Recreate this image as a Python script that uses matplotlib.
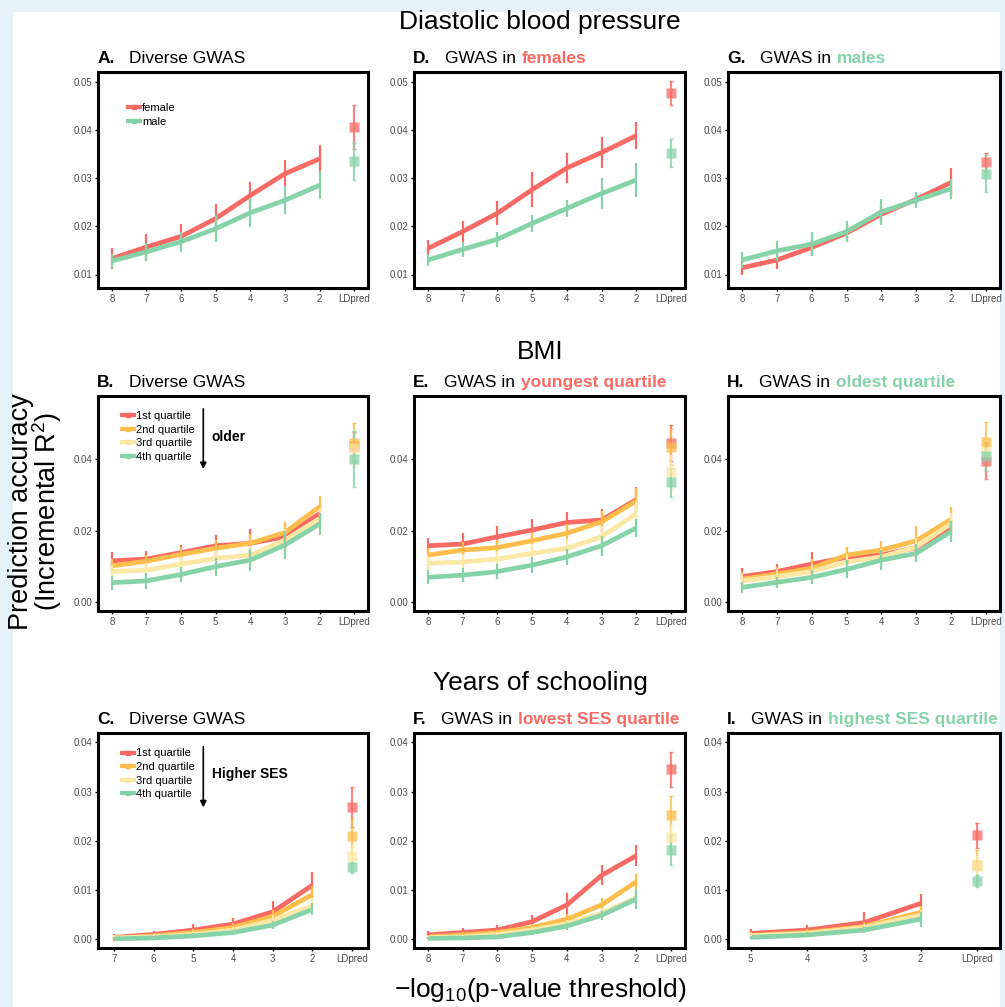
import numpy as np
import matplotlib
matplotlib.use('Agg')
import matplotlib.pyplot as plt
from matplotlib.lines import Line2D
from matplotlib.patches import Rectangle

plt.rcParams['font.family'] = ['Liberation Sans', 'DejaVu Sans']
plt.rcParams['mathtext.fontset'] = 'custom'
plt.rcParams['mathtext.rm'] = 'Liberation Sans'
plt.rcParams['mathtext.it'] = 'Liberation Sans'
plt.rcParams['mathtext.default'] = 'regular'

RED = '#f86a63'
ORANGE = '#fdbe4c'
YELLOW = '#fce8a6'
GREEN = '#86d3a9'

# x tick labels
xl8 = ['8', '7', '6', '5', '4', '3', '2', 'LDpred']
xl7 = ['7', '6', '5', '4', '3', '2', 'LDpred']
xl5 = ['5', '4', '3', '2', 'LDpred']

# Diastolic blood pressure
a_female = [0.0133, 0.0157, 0.0179, 0.0216, 0.0264, 0.0309, 0.0340, 0.0406]
a_female_err = [0.0022, 0.0027, 0.0025, 0.0030, 0.0028, 0.0028, 0.0029, 0.0045]
a_male = [0.0128, 0.0147, 0.0168, 0.0195, 0.0228, 0.0254, 0.0285, 0.0335]
a_male_err = [0.0015, 0.0019, 0.0021, 0.0028, 0.0030, 0.0029, 0.0029, 0.0038]

d_female = [0.0154, 0.0189, 0.0227, 0.0276, 0.0321, 0.0353, 0.0388, 0.0477]
d_female_err = [0.0017, 0.0021, 0.0025, 0.0036, 0.0032, 0.0033, 0.0028, 0.0025]
d_male = [0.0130, 0.0152, 0.0173, 0.0206, 0.0237, 0.0268, 0.0296, 0.0351]
d_male_err = [0.0013, 0.0016, 0.0015, 0.0017, 0.0018, 0.0033, 0.0035, 0.0029]

g_female = [0.0114, 0.0130, 0.0156, 0.0186, 0.0225, 0.0256, 0.0291, 0.0334]
g_female_err = [0.0014, 0.0019, 0.0017, 0.0019, 0.0019, 0.0010, 0.0029, 0.0019]
g_male = [0.0130, 0.0149, 0.0163, 0.0189, 0.0230, 0.0254, 0.0278, 0.0309]
g_male_err = [0.0017, 0.0021, 0.0025, 0.0022, 0.0027, 0.0017, 0.0021, 0.0038]

# BMI
b1 = [0.0116, 0.0121, 0.0139, 0.0158, 0.0165, 0.0183, 0.0248, 0.0436]
b1_err = [0.0025, 0.0022, 0.0022, 0.0030, 0.0040, 0.0040, 0.0030, 0.0040]
b2 = [0.0102, 0.0115, 0.0134, 0.0151, 0.0165, 0.0195, 0.0267, 0.0446]
b2_err = [0.0018, 0.0018, 0.0020, 0.0022, 0.0025, 0.0028, 0.0030, 0.0055]
b3 = [0.0086, 0.0090, 0.0107, 0.0123, 0.0132, 0.0174, 0.0234, 0.0430]
b3_err = [0.0018, 0.0020, 0.0020, 0.0022, 0.0025, 0.0030, 0.0030, 0.0050]
b4 = [0.0055, 0.0060, 0.0078, 0.0100, 0.0118, 0.0160, 0.0219, 0.0399]
b4_err = [0.0020, 0.0022, 0.0022, 0.0025, 0.0030, 0.0040, 0.0030, 0.0078]

e1 = [0.0158, 0.0163, 0.0183, 0.0202, 0.0223, 0.0230, 0.0287, 0.0446]
e1_err = [0.0022, 0.0030, 0.0030, 0.0030, 0.0030, 0.0030, 0.0035, 0.0050]
e2 = [0.0132, 0.0146, 0.0153, 0.0172, 0.0193, 0.0225, 0.0283, 0.0433]
e2_err = [0.0020, 0.0022, 0.0022, 0.0025, 0.0025, 0.0030, 0.0035, 0.0050]
e3 = [0.0109, 0.0113, 0.0121, 0.0137, 0.0151, 0.0183, 0.0248, 0.0365]
e3_err = [0.0020, 0.0022, 0.0022, 0.0025, 0.0025, 0.0030, 0.0035, 0.0045]
e4 = [0.0070, 0.0076, 0.0086, 0.0104, 0.0127, 0.0158, 0.0208, 0.0335]
e4_err = [0.0020, 0.0020, 0.0020, 0.0022, 0.0022, 0.0028, 0.0025, 0.0040]

h1 = [0.0072, 0.0086, 0.0107, 0.0126, 0.0132, 0.0153, 0.0211, 0.0395]
h1_err = [0.0025, 0.0020, 0.0035, 0.0028, 0.0025, 0.0030, 0.0025, 0.0050]
h2 = [0.0065, 0.0079, 0.0095, 0.0132, 0.0146, 0.0172, 0.0232, 0.0448]
h2_err = [0.0020, 0.0020, 0.0025, 0.0022, 0.0025, 0.0040, 0.0035, 0.0055]
h3 = [0.0060, 0.0072, 0.0086, 0.0113, 0.0127, 0.0155, 0.0220, 0.0420]
h3_err = [0.0018, 0.0018, 0.0020, 0.0022, 0.0022, 0.0025, 0.0030, 0.0040]
h4 = [0.0042, 0.0056, 0.0070, 0.0092, 0.0118, 0.0137, 0.0198, 0.0408]
h4_err = [0.0015, 0.0015, 0.0020, 0.0025, 0.0028, 0.0025, 0.0030, 0.0040]

# Years of schooling
c1 = [0.0004, 0.0010, 0.0019, 0.0031, 0.0056, 0.0110, 0.0269]
c1_err = [0.0007, 0.0008, 0.0013, 0.0012, 0.0021, 0.0027, 0.0040]
c2 = [0.0003, 0.0007, 0.0014, 0.0024, 0.0047, 0.0091, 0.0209]
c2_err = [0.0006, 0.0006, 0.0008, 0.0009, 0.0012, 0.0018, 0.0035]
c3 = [0.0003, 0.0005, 0.0010, 0.0019, 0.0039, 0.0068, 0.0170]
c3_err = [0.0005, 0.0005, 0.0006, 0.0007, 0.0010, 0.0015, 0.0020]
c4 = [0.0001, 0.0003, 0.0007, 0.0014, 0.0029, 0.0061, 0.0146]
c4_err = [0.0003, 0.0004, 0.0005, 0.0006, 0.0008, 0.0012, 0.0012]

f1 = [0.0009, 0.0014, 0.0019, 0.0036, 0.0070, 0.0130, 0.0170, 0.0345]
f1_err = [0.0007, 0.0009, 0.0010, 0.0013, 0.0025, 0.0020, 0.0022, 0.0036]
f2 = [0.0005, 0.0009, 0.0014, 0.0024, 0.0041, 0.0070, 0.0117, 0.0252]
f2_err = [0.0004, 0.0005, 0.0006, 0.0008, 0.0010, 0.0014, 0.0016, 0.0040]
f3 = [0.0004, 0.0005, 0.0010, 0.0019, 0.0032, 0.0053, 0.0085, 0.0207]
f3_err = [0.0003, 0.0004, 0.0005, 0.0006, 0.0008, 0.0010, 0.0014, 0.0025]
f4 = [0.0002, 0.0003, 0.0005, 0.0014, 0.0027, 0.0049, 0.0082, 0.0181]
f4_err = [0.0002, 0.0003, 0.0004, 0.0005, 0.0007, 0.0009, 0.0020, 0.0030]

i1 = [0.0012, 0.0019, 0.0034, 0.0073, 0.0211]
i1_err = [0.0009, 0.0010, 0.0021, 0.0019, 0.0025]
i2 = [0.0008, 0.0014, 0.0026, 0.0055, 0.0151]
i2_err = [0.0006, 0.0007, 0.0010, 0.0013, 0.0030]
i3 = [0.0007, 0.0012, 0.0024, 0.0049, 0.0149]
i3_err = [0.0005, 0.0006, 0.0008, 0.0010, 0.0020]
i4 = [0.0004, 0.0009, 0.0019, 0.0041, 0.0118]
i4_err = [0.0003, 0.0005, 0.0006, 0.0015, 0.0012]

sex_labels = ['female', 'male']
quart_labels = ['1st quartile', '2nd quartile', '3rd quartile', '4th quartile']

W, H = 1005, 1007
fig = plt.figure(figsize=(W / 100, H / 100), dpi=100, facecolor='#e6f2fa')
fig.patches.append(Rectangle((13 / W, 0), (1000 - 13) / W, (H - 12) / H,
                             transform=fig.transFigure, facecolor='white',
                             edgecolor='none', zorder=-1))

col_x = [(98, 368), (414, 685), (728, 1000)]
row_y = [(72, 288), (396, 611), (733, 948)]


def make_ax(col, row):
    x0, x1 = col_x[col]
    y0, y1 = row_y[row]
    return fig.add_axes([x0 / W, 1 - y1 / H, (x1 - x0) / W, (y1 - y0) / H])


def draw_panel(ax, xlabels, groups, ylim, yticks):
    x = np.arange(len(xlabels))
    for vals, errs, col in groups:
        ax.plot(x[:-1], vals[:-1], color=col, lw=3.4, zorder=2,
                solid_capstyle='butt')
    for vals, errs, col in groups:
        ax.errorbar(x[:-1], vals[:-1], yerr=errs[:-1], fmt='none', ecolor=col,
                    elinewidth=1.6, zorder=3)
        ax.errorbar(x[-1:], vals[-1:], yerr=errs[-1:], fmt='none', ecolor=col,
                    elinewidth=1.6, capsize=1.5, alpha=0.8, zorder=3)
    for vals, errs, col in groups:
        ax.plot(x[-1:], vals[-1:], 's', color=col, ms=6.8, alpha=0.75,
                mec='none', zorder=4)
    ax.set_xlim(-0.4, len(xlabels) - 0.6)
    ax.set_xticks(x)
    ax.set_xticklabels(xlabels)
    ax.set_ylim(*ylim)
    ax.set_yticks(yticks)
    ax.set_yticklabels(['%.2f' % v for v in yticks])
    ax.tick_params(length=2.5, width=1, color='black', labelsize=7,
                   labelcolor='#4d4d4d', pad=1.5)
    for s in ax.spines.values():
        s.set_linewidth(2.2)
        s.set_color('black')


def panel_title(ax, letter, pre, word=None, wcol=None):
    t = ax.text(-0.003, 1.026, letter, transform=ax.transAxes, fontsize=12.5,
                fontweight='bold', va='bottom', ha='left')
    t2 = ax.annotate(pre, xy=(1, 0), xycoords=t, xytext=(10.5, 0),
                     textcoords='offset points', fontsize=12.5, va='bottom')
    if word:
        ax.annotate(word, xy=(1, 0), xycoords=t2, xytext=(4, 0),
                    textcoords='offset points', fontsize=12.5,
                    fontweight='bold', color=wcol, va='bottom')


def add_legend(ax, labels, colors, x, y):
    handles = [Line2D([0], [0], color=c, lw=3, marker='s', ms=3.5) for c in colors]
    ax.legend(handles, labels, loc='upper left', bbox_to_anchor=(x, y),
              fontsize=8, handlelength=1.1, handletextpad=0.15,
              labelspacing=0.32, borderpad=0, borderaxespad=0, frameon=False)


def add_arrow(ax, text, y_top, y_bot, y_text):
    ax.annotate('', xy=(0.39, y_bot), xytext=(0.39, y_top),
                xycoords='axes fraction',
                arrowprops=dict(arrowstyle='-|>', color='black', lw=1.2,
                                mutation_scale=9, shrinkA=0, shrinkB=0))
    ax.text(0.422, y_text, text, transform=ax.transAxes, fontsize=10,
            fontweight='bold', va='center', ha='left')


sex_cols = [RED, GREEN]
q_cols = [RED, ORANGE, YELLOW, GREEN]

ylim1 = (0.0072, 0.052)
yt1 = [0.01, 0.02, 0.03, 0.04, 0.05]
ylim2 = (-0.0024, 0.0576)
yt2 = [0.00, 0.02, 0.04]
ylim3 = (-0.00175, 0.0419)
yt3 = [0.00, 0.01, 0.02, 0.03, 0.04]

# row 1
ax = make_ax(0, 0)
draw_panel(ax, xl8, [(a_female, a_female_err, RED), (a_male, a_male_err, GREEN)], ylim1, yt1)
panel_title(ax, 'A.', 'Diverse GWAS')
add_legend(ax, sex_labels, sex_cols, 0.111, 0.855)

ax = make_ax(1, 0)
draw_panel(ax, xl8, [(d_female, d_female_err, RED), (d_male, d_male_err, GREEN)], ylim1, yt1)
panel_title(ax, 'D.', 'GWAS in', 'females', RED)

ax = make_ax(2, 0)
draw_panel(ax, xl8, [(g_female, g_female_err, RED), (g_male, g_male_err, GREEN)], ylim1, yt1)
panel_title(ax, 'G.', 'GWAS in', 'males', GREEN)

# row 2
ax = make_ax(0, 1)
draw_panel(ax, xl8, [(b1, b1_err, RED), (b2, b2_err, ORANGE), (b3, b3_err, YELLOW),
                     (b4, b4_err, GREEN)], ylim2, yt2)
panel_title(ax, 'B.', 'Diverse GWAS')
add_legend(ax, quart_labels, q_cols, 0.088, 0.93)
add_arrow(ax, 'older', 0.94, 0.66, 0.811)

ax = make_ax(1, 1)
draw_panel(ax, xl8, [(e1, e1_err, RED), (e2, e2_err, ORANGE), (e3, e3_err, YELLOW),
                     (e4, e4_err, GREEN)], ylim2, yt2)
panel_title(ax, 'E.', 'GWAS in', 'youngest quartile', RED)

ax = make_ax(2, 1)
draw_panel(ax, xl8, [(h1, h1_err, RED), (h2, h2_err, ORANGE), (h3, h3_err, YELLOW),
                     (h4, h4_err, GREEN)], ylim2, yt2)
panel_title(ax, 'H.', 'GWAS in', 'oldest quartile', GREEN)

# row 3
ax = make_ax(0, 2)
draw_panel(ax, xl7, [(c1, c1_err, RED), (c2, c2_err, ORANGE), (c3, c3_err, YELLOW),
                     (c4, c4_err, GREEN)], ylim3, yt3)
panel_title(ax, 'C.', 'Diverse GWAS')
add_legend(ax, quart_labels, q_cols, 0.088, 0.928)
add_arrow(ax, 'Higher SES', 0.936, 0.654, 0.809)

ax = make_ax(1, 2)
draw_panel(ax, xl8, [(f1, f1_err, RED), (f2, f2_err, ORANGE), (f3, f3_err, YELLOW),
                     (f4, f4_err, GREEN)], ylim3, yt3)
panel_title(ax, 'F.', 'GWAS in', 'lowest SES quartile', RED)

ax = make_ax(2, 2)
draw_panel(ax, xl5, [(i1, i1_err, RED), (i2, i2_err, ORANGE), (i3, i3_err, YELLOW),
                     (i4, i4_err, GREEN)], ylim3, yt3)
panel_title(ax, 'I.', 'GWAS in', 'highest SES quartile', GREEN)

# row titles and shared axis labels
for title, yc in [('Diastolic blood pressure', 22), ('BMI', 352), ('Years of schooling', 683)]:
    fig.text(540 / W, 1 - yc / H, title, fontsize=19, ha='center', va='center')

fig.text(36 / W, 1 - 512 / H, 'Prediction accuracy\n(Incremental R$^2$)', fontsize=19.5,
         rotation=90, ha='center', va='center', linespacing=0.85)
fig.text(540 / W, 1 - 990 / H, '\u2212log$_{10}$(p-value threshold)', fontsize=19,
         ha='center', va='center')

fig.savefig('out.png', dpi=100, facecolor=fig.get_facecolor())
